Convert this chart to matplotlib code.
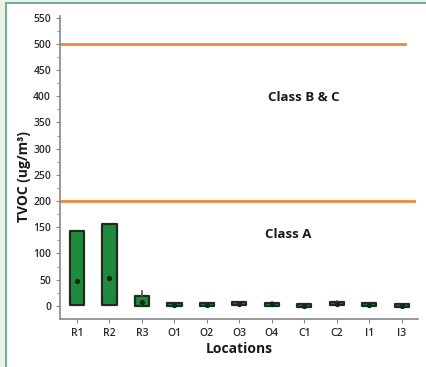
import matplotlib
matplotlib.use('Agg')
from matplotlib import pyplot as plt
from matplotlib.patches import Rectangle

plt.rcParams['font.family'] = ['Open Sans', 'DejaVu Sans']

# TVOC summary per sampling location
locations = ['R1', 'R2', 'R3', 'O1', 'O2', 'O3', 'O4', 'C1', 'C2', 'I1', 'I3']
whisker_low = [2, 2, 0, -1, -1, 1, 0, -3, 1, -1, -3]
box_low = [2, 2, 0, -1, -1, 1, 0, -3, 1, -1, -3]
median = [48, 53, 8, 2, 2, 4, 3, 0, 4, 2, 0]
box_high = [142, 156, 18, 5, 5, 7, 6, 3, 7, 5, 3]
whisker_high = [142, 156, 28, 5, 5, 8, 7, 3, 9, 5, 3]

class_a_limit = 200
class_bc_limit = 500

fig = plt.figure(figsize=(4.26, 3.67), dpi=100)
fig.patch.set_facecolor('#e9f0e6')
fig.patches.append(Rectangle((0.014, -0.05), 1.1, 1.042, transform=fig.transFigure,
                             facecolor='white', edgecolor='#5a9e8a', linewidth=1.2,
                             zorder=-1))

ax = fig.add_axes([0.141, 0.131, 0.84, 0.828])
ax.set_facecolor('none')

stats = []
for i, name in enumerate(locations):
    stats.append({'label': name, 'whislo': whisker_low[i], 'q1': box_low[i],
                  'med': median[i], 'q3': box_high[i], 'whishi': whisker_high[i],
                  'mean': median[i], 'fliers': []})

ax.bxp(stats, positions=range(len(locations)), widths=0.44, patch_artist=True,
       showmeans=True, showcaps=False, showfliers=False,
       boxprops=dict(facecolor='#1f8a3b', edgecolor='#1a2e1c', linewidth=1.6,
                     joinstyle='round'),
       medianprops=dict(linewidth=0),
       whiskerprops=dict(color='#555555', linewidth=1.2),
       meanprops=dict(marker='o', markersize=2.8, markerfacecolor='#0f2a12',
                      markeredgecolor='#0f2a12'))

ax.axhline(class_a_limit, color='#f0883a', linewidth=2, xmax=0.99)
ax.axhline(class_bc_limit, color='#f0883a', linewidth=2, xmax=0.965)

ax.text(7.0, 397, 'Class B & C', ha='center', va='center', fontsize=9.5, fontweight='bold',
        color='#1a1a1a')
ax.text(6.5, 137, 'Class A', ha='center', va='center', fontsize=9.5, fontweight='bold',
        color='#1a1a1a')

ax.set_xlim(-0.52, 10.5)
ax.set_ylim(-25, 555)
ax.set_yticks(range(0, 551, 50))
ax.set_yticks(range(0, 551, 25), minor=True)
ax.set_xticks(range(len(locations)))
ax.set_xticklabels(locations)

for side in ['top', 'right']:
    ax.spines[side].set_visible(False)
for side in ['left', 'bottom']:
    ax.spines[side].set_color('#888888')
    ax.spines[side].set_linewidth(1.2)
ax.spines['left'].set_bounds(-25, 553)
ax.tick_params(axis='both', colors='#888888', labelcolor='#2a2a2a', labelsize=7.5, length=3)
ax.tick_params(axis='y', which='minor', colors='#888888', length=2)
plt.setp(ax.get_xticklabels() + ax.get_yticklabels(), fontweight='semibold')

ax.set_xlabel('Locations', fontsize=10, fontweight='bold', labelpad=2, color='#1a1a1a')
ax.set_ylabel('TVOC (ug/m³)', fontsize=10, fontweight='bold', color='#1a1a1a')
ax.yaxis.set_label_coords(-0.082, 0.467)

plt.savefig('out.png', dpi=100)
